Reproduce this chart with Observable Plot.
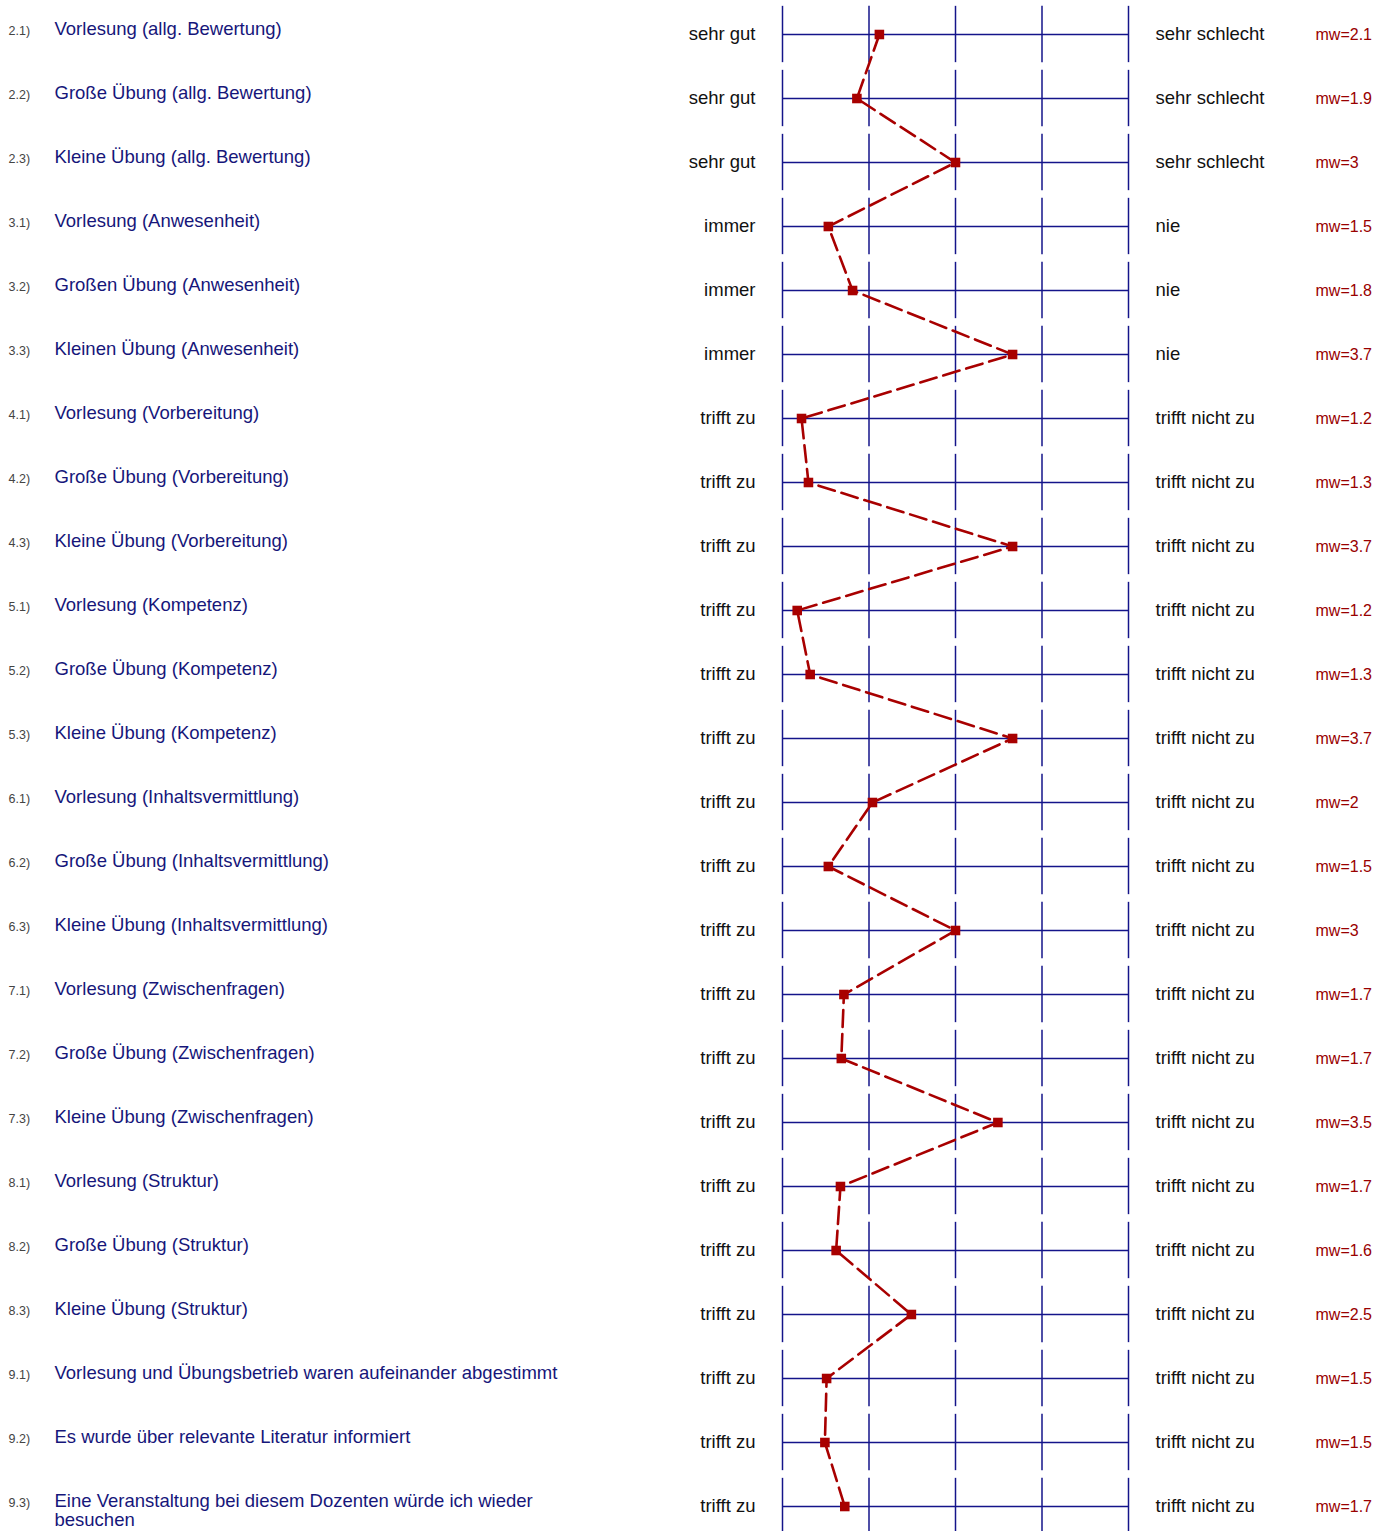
<!DOCTYPE html>
<html>
<head>
<meta charset="utf-8">
<script src="https://cdn.jsdelivr.net/npm/d3@7"></script>
<script src="https://cdn.jsdelivr.net/npm/@observablehq/plot@0.6"></script>
<style>
  html, body { margin: 0; padding: 0; background: #fff; }
  svg { display: block; }
</style>
</head>
<body>
<div id="chart"></div>
<script>
const nums = ["2.1)","2.2)","2.3)","3.1)","3.2)","3.3)","4.1)","4.2)","4.3)","5.1)","5.2)","5.3)","6.1)","6.2)","6.3)","7.1)","7.2)","7.3)","8.1)","8.2)","8.3)","9.1)","9.2)","9.3)"];
const labels = [
  "Vorlesung (allg. Bewertung)",
  "Große Übung (allg. Bewertung)",
  "Kleine Übung (allg. Bewertung)",
  "Vorlesung (Anwesenheit)",
  "Großen Übung (Anwesenheit)",
  "Kleinen Übung (Anwesenheit)",
  "Vorlesung (Vorbereitung)",
  "Große Übung (Vorbereitung)",
  "Kleine Übung (Vorbereitung)",
  "Vorlesung (Kompetenz)",
  "Große Übung (Kompetenz)",
  "Kleine Übung (Kompetenz)",
  "Vorlesung (Inhaltsvermittlung)",
  "Große Übung (Inhaltsvermittlung)",
  "Kleine Übung (Inhaltsvermittlung)",
  "Vorlesung (Zwischenfragen)",
  "Große Übung (Zwischenfragen)",
  "Kleine Übung (Zwischenfragen)",
  "Vorlesung (Struktur)",
  "Große Übung (Struktur)",
  "Kleine Übung (Struktur)",
  "Vorlesung und Übungsbetrieb waren aufeinander abgestimmt",
  "Es wurde über relevante Literatur informiert",
  "Eine Veranstaltung bei diesem Dozenten würde ich wieder\nbesuchen"
];
const leftPoles = ["sehr gut","sehr gut","sehr gut","immer","immer","immer",
  "trifft zu","trifft zu","trifft zu","trifft zu","trifft zu","trifft zu",
  "trifft zu","trifft zu","trifft zu","trifft zu","trifft zu","trifft zu",
  "trifft zu","trifft zu","trifft zu","trifft zu","trifft zu","trifft zu"];
const rightPoles = ["sehr schlecht","sehr schlecht","sehr schlecht","nie","nie","nie",
  "trifft nicht zu","trifft nicht zu","trifft nicht zu","trifft nicht zu","trifft nicht zu","trifft nicht zu",
  "trifft nicht zu","trifft nicht zu","trifft nicht zu","trifft nicht zu","trifft nicht zu","trifft nicht zu",
  "trifft nicht zu","trifft nicht zu","trifft nicht zu","trifft nicht zu","trifft nicht zu","trifft nicht zu"];
// plotted positions
const values = [2.12,1.86,3.0,1.53,1.81,3.66,1.22,1.30,3.66,1.17,1.32,3.66,2.04,1.53,3.0,1.71,1.68,3.49,1.67,1.62,2.49,1.51,1.49,1.72];
// printed mean labels
const mwLabels = ["mw=2.1","mw=1.9","mw=3","mw=1.5","mw=1.8","mw=3.7","mw=1.2","mw=1.3","mw=3.7","mw=1.2","mw=1.3","mw=3.7","mw=2","mw=1.5","mw=3","mw=1.7","mw=1.7","mw=3.5","mw=1.7","mw=1.6","mw=2.5","mw=1.5","mw=1.5","mw=1.7"];
const ticks = [1,2,3,4,5];

const rows = labels.map((l, i) => ({i, num: nums[i], label: l, left: leftPoles[i], right: rightPoles[i], v: values[i], mw: mwLabels[i]}));
const grid = rows.flatMap(r => ticks.map(t => ({i: r.i, t})));

const navy = "#14148a";
const red = "#a80000";
const font = "Arial, 'Liberation Sans', sans-serif";

const chart = Plot.plot({
  width: 1385,
  height: 1531,
  margin: 0,
  style: {fontFamily: font, background: "#fff"},
  x: {domain: [1, 5], range: [782, 1128], axis: null},
  y: {domain: [0, 23], range: [34, 1506], axis: null},
  marks: [
    Plot.ruleX(grid, {x: "t", y1: d => d.i - 0.44, y2: d => d.i + 0.44, stroke: navy, strokeWidth: 1.5}),
    Plot.ruleY(rows, {y: "i", x1: 1, x2: 5, stroke: navy, strokeWidth: 1.3}),
    Plot.line(rows, {x: "v", y: "i", stroke: red, strokeWidth: 2.6, strokeDasharray: "17,7", curve: "linear"}),
    Plot.dot(rows, {x: "v", y: "i", symbol: "square", r: 5.4, fill: red, stroke: "none"}),
    Plot.text(rows, {y: "i", text: "num", frameAnchor: "left", dx: 8, dy: -4, textAnchor: "start", fontSize: 12.5, fill: "#444"}),
    Plot.text(rows, {y: "i", text: "label", frameAnchor: "left", dx: 54, dy: -12.5, lineAnchor: "top", textAnchor: "start", fontSize: 18.5, fill: "#16167a", lineHeight: 1.02}),
    Plot.text(rows, {x: () => 1, y: "i", text: "left", dx: -27, textAnchor: "end", fontSize: 18.5, fill: "#111"}),
    Plot.text(rows, {x: () => 5, y: "i", text: "right", dx: 27, textAnchor: "start", fontSize: 18.5, fill: "#111"}),
    Plot.text(rows, {x: () => 5, y: "i", text: "mw", dx: 187, textAnchor: "start", fontSize: 16, fill: "#990000"})
  ]
});
document.getElementById("chart").appendChild(chart);
</script>
</body>
</html>
